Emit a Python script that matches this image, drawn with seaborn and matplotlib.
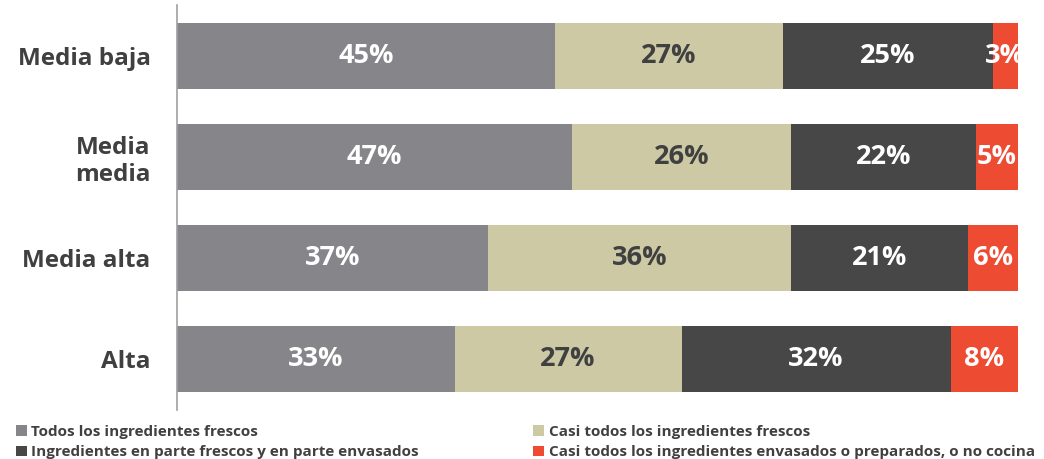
import matplotlib
matplotlib.use("Agg")
import matplotlib.pyplot as plt
import seaborn as sns
import numpy as np
import pandas as pd
from matplotlib.patches import Patch

categories = ["Media baja", "Media\nmedia", "Media alta", "Alta"]
series_names = [
    "Todos los ingredientes frescos",
    "Casi todos los ingredientes frescos",
    "Ingredientes en parte frescos y en parte envasados",
    "Casi todos los ingredientes envasados o preparados, o no cocina",
]
todos = [45, 47, 37, 33]
casi_todos = [27, 26, 36, 27]
en_parte = [25, 22, 21, 32]
envasados = [3, 5, 6, 8]

colors = ["#86858A", "#CDC9A5", "#474747", "#EE4B33"]
label_colors = ["white", "#404040", "white", "white"]

sns.set_theme(style="white")
plt.rcParams["font.family"] = ["Open Sans", "DejaVu Sans"]

series = [todos, casi_todos, en_parte, envasados]
cum = np.cumsum(np.array(series), axis=0)

fig = plt.figure(figsize=(10.44, 4.59), dpi=100)
ax = fig.add_axes([177 / 1044, 1 - 410 / 459, (1018 - 177) / 1044, 405 / 459])

for i in range(3, -1, -1):
    df = pd.DataFrame({"cat": categories, "val": cum[i]})
    sns.barplot(data=df, x="val", y="cat", orient="h", color=colors[i],
                saturation=1, width=0.65, ax=ax, edgecolor="none")

for i in range(4):
    for j, cat in enumerate(categories):
        v = series[i][j]
        left = cum[i][j] - v
        ax.text(left + v / 2, j, f"{v}%", ha="center", va="center",
                color=label_colors[i], fontsize=19.5, fontweight="bold",
                clip_on=False)

ax.set_xlim(0, 100)
ax.set_ylim(3.5, -0.5)
ax.set_xlabel("")
ax.set_ylabel("")
ax.set_xticks([])
ax.tick_params(axis="y", length=0, pad=19)
for lab in ax.get_yticklabels():
    lab.set_fontsize(17.5)
    lab.set_fontweight("bold")
    lab.set_color("#404040")
    lab.set_horizontalalignment("right")
    lab.set_multialignment("center")
for s in ["top", "right", "bottom"]:
    ax.spines[s].set_visible(False)
ax.spines["left"].set_color("#A0A0A0")
ax.spines["left"].set_linewidth(1.2)

order = [0, 2, 1, 3]
handles = [Patch(facecolor=colors[k], edgecolor="none") for k in order]
names = [series_names[k] for k in order]
leg = fig.legend(handles, names, ncol=2, loc="lower left",
                 bbox_to_anchor=(0.002, -0.031), frameon=False,
                 handlelength=0.7, handleheight=0.7, handletextpad=0.3,
                 columnspacing=7.5, labelspacing=0.45,
                 prop={"weight": "bold", "size": 11.0})
for t in leg.get_texts():
    t.set_color("#404040")

fig.savefig("out.png", dpi=100)
